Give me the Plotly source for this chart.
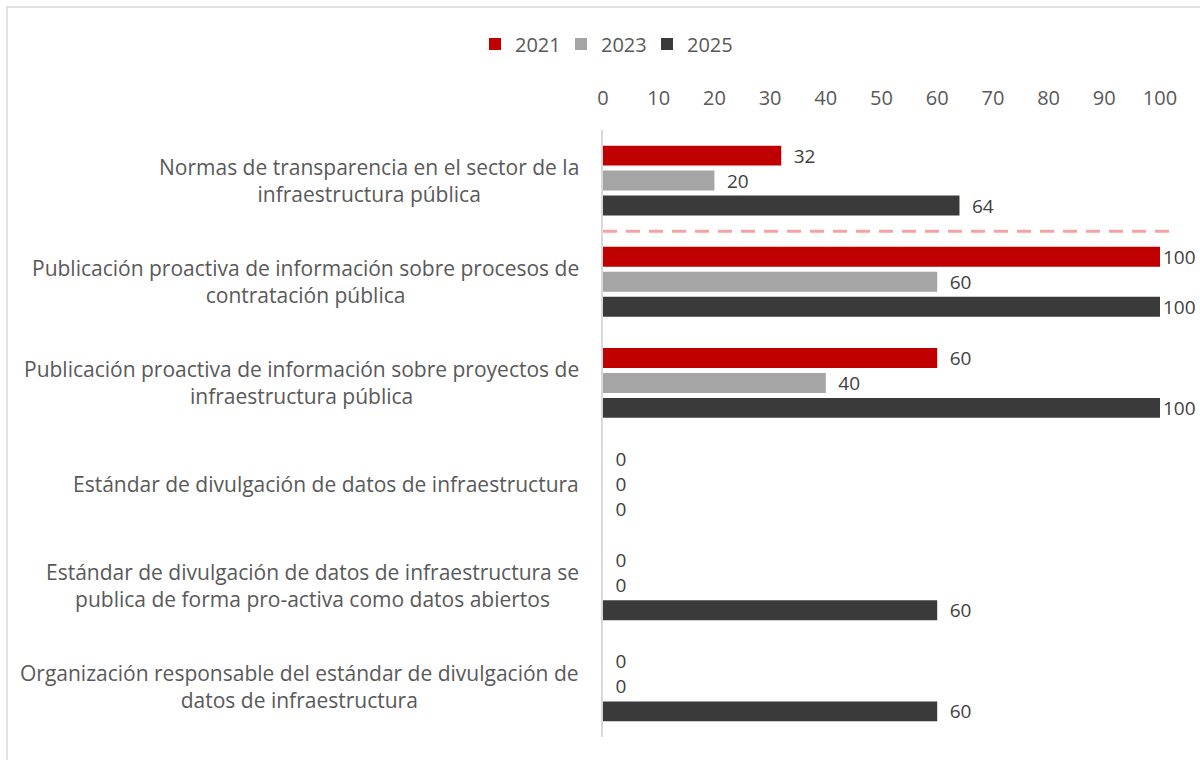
import plotly.graph_objects as go

categories = [
    "Normas de transparencia en el sector de la<br>infraestructura pública",
    "Publicación proactiva de información sobre procesos de<br>contratación pública",
    "Publicación proactiva de información sobre proyectos de<br>infraestructura pública",
    "Estándar de divulgación de datos de infraestructura",
    "Estándar de divulgación de datos de infraestructura se<br>publica de forma pro-activa como datos abiertos",
    "Organización responsable del estándar de divulgación de<br>datos de infraestructura",
]
series_names = ["2021", "2023", "2025"]
values_2021 = [32, 100, 60, 0, 0, 0]
values_2023 = [20, 60, 40, 0, 0, 0]
values_2025 = [64, 100, 100, 0, 60, 60]
x_ticks = [0, 10, 20, 30, 40, 50, 60, 70, 80, 90, 100]
colors = ["#C00000", "#A5A5A5", "#3A3A3A"]

FONT = "Open Sans, Lato, sans-serif"
W, H = 1200, 760
ML, MR, MT, MB = 603, 40, 130, 23
pw, ph = W - ML - MR, H - MT - MB

fig = go.Figure()
for name, vals, col in zip(series_names, [values_2021, values_2023, values_2025], colors):
    fig.add_trace(go.Bar(
        y=list(range(len(categories))), x=vals, name=name, orientation="h",
        marker=dict(color=col, line=dict(width=0)),
        texttemplate=["%{x}" if v >= 100 else "\u2002%{x}" for v in vals],
        textposition="outside", constraintext="none",
        textfont=dict(family=FONT, size=19, color="#404040"),
        cliponaxis=False,
    ))

# category labels, centred lines, right-aligned block
for i, c in enumerate(categories):
    fig.add_annotation(
        x=0, xref="paper", y=i, yref="y", text=c, showarrow=False,
        xanchor="right", yanchor="middle", align="center", xshift=-22,
        font=dict(family=FONT, size=21, color="#595959"),
    )

# dashed separator line between first and second category
fig.add_shape(type="line", xref="paper", yref="y", x0=0, x1=(1170 - ML) / pw, y0=0.5, y1=0.5,
              line=dict(color="#F4A3A3", width=3, dash="14px,9px"))

# outer chart border
fig.add_shape(type="rect", xref="paper", yref="paper",
              x0=(7 - ML) / pw, x1=(W + 20 - ML) / pw,
              y0=-(MB + 20) / ph, y1=(H - MB - 7) / ph,
              line=dict(color="#D9D9D9", width=1.5), fillcolor="rgba(0,0,0,0)", layer="below")

fig.update_layout(
    width=W, height=H,
    margin=dict(l=ML, r=MR, t=MT, b=MB),
    paper_bgcolor="white", plot_bgcolor="white",
    barmode="group", bargap=0.26, bargroupgap=0.2,
    font=dict(family=FONT, color="#595959"),
    showlegend=True,
    legend=dict(orientation="h", x=(604 - ML) / pw, xanchor="center",
                y=(H - MB - 44) / ph, yanchor="middle",
                font=dict(family=FONT, size=20, color="#595959"),
                itemwidth=30, traceorder="normal", itemclick=False,
                entrywidth=41, entrywidthmode="pixels"),
    xaxis=dict(side="top", range=[0, 100], tickvals=x_ticks, ticktext=[str(t) for t in x_ticks],
               showgrid=False, zeroline=False, showline=False, ticks="",
               tickfont=dict(family=FONT, size=20, color="#595959"),
               ticklabelstandoff=20, fixedrange=True),
    yaxis=dict(range=[5.5, -0.5], showticklabels=False, showgrid=False, zeroline=False,
               showline=True, linecolor="#D9D9D9", linewidth=1.5, ticks="", fixedrange=True),
)

fig.write_html("out.html", config={"displayModeBar": False},
               post_script="document.body.style.margin='0';document.body.style.overflow='hidden';")
